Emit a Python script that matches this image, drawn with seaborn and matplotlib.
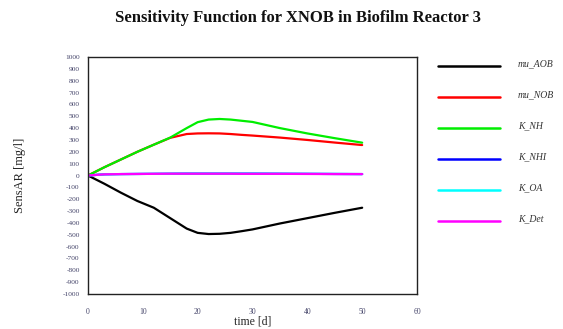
import matplotlib
matplotlib.use("Agg")
import matplotlib.pyplot as plt
import seaborn as sns
import pandas as pd
from matplotlib.lines import Line2D

time = [0, 3, 6, 9, 12, 15, 18, 20, 22, 24, 26, 28, 30, 35, 40, 45, 50]
mu_AOB = [0, -70, -145, -215, -272, -360, -448, -484, -494, -492, -484, -470, -455, -405, -360, -315, -272]
mu_NOB = [0, 70, 135, 200, 260, 318, 350, 355, 356, 355, 350, 343, 337, 320, 300, 278, 257]
K_NH = [0, 70, 135, 200, 260, 320, 400, 450, 472, 477, 472, 462, 452, 400, 355, 315, 277]
K_NHI = [0, 10, 12, 13, 14, 15, 16, 16, 16, 16, 16, 16, 16, 15, 14, 13, 12]
K_OA = [0, 10, 12, 13, 14, 15, 16, 16, 16, 16, 16, 16, 16, 15, 14, 13, 12]
K_Det = [0, 10, 12, 13, 14, 15, 15, 15, 15, 15, 15, 14, 14, 14, 13, 12, 12]

series_names = ["mu_AOB", "mu_NOB", "K_NH", "K_NHI", "K_OA", "K_Det"]
series_vals = [mu_AOB, mu_NOB, K_NH, K_NHI, K_OA, K_Det]
colors = ["#000000", "#ff0000", "#00ee00", "#0000ff", "#00ffff", "#ff00ff"]

rows = []
for n, vals in zip(series_names, series_vals):
    for t, v in zip(time, vals):
        rows.append({"time": t, "value": v, "param": n})
df = pd.DataFrame(rows)

sns.set_style("white")
plt.rcParams["font.family"] = ["Liberation Serif", "DejaVu Serif"]
plt.rcParams["axes.unicode_minus"] = False

W, H = 563, 329
fig = plt.figure(figsize=(W / 100, H / 100), dpi=100)
ax = fig.add_axes([88 / W, (H - 294) / H, (417 - 88) / W, (294 - 57) / H])

sns.lineplot(data=df, x="time", y="value", hue="param", hue_order=series_names,
             palette=colors, linewidth=1.6, ax=ax, legend=False, sort=False)

ax.set_xlim(0, 60)
ax.set_ylim(-1000, 1000)
ax.set_xticks(range(0, 61, 10))
ax.set_yticks(range(-1000, 1001, 100))
ax.tick_params(axis="y", direction="out", length=4, width=1, labelsize=5.3,
               labelcolor="#45456a", pad=2)
ax.tick_params(axis="x", direction="in", length=4, width=1, labelsize=5.5,
               labelcolor="#45456a", pad=10)
for s in ax.spines.values():
    s.set_color("#222222")
    s.set_linewidth(1)
ax.set_xlabel("time [d]", fontsize=8.5, labelpad=0)
ax.set_ylabel("SensAR [mg/l]", fontsize=9, labelpad=26)

fig.text(298 / W, 1 - 18 / H, "Sensitivity Function for XNOB in Biofilm Reactor 3",
         ha="center", va="center", fontsize=12, fontweight="bold", color="#111111")

ys = [66, 97, 128, 159, 190, 221]
for n, c, y in zip(series_names, colors, ys):
    fig.add_artist(Line2D([438 / W, 500 / W], [1 - y / H, 1 - y / H], color=c,
                          linewidth=1.8, transform=fig.transFigure))
    fig.text(518 / W, 1 - (y - 2) / H, n, fontsize=7, style="italic",
             ha="left", va="center", color="#333333")

fig.savefig("out.png", dpi=100)
